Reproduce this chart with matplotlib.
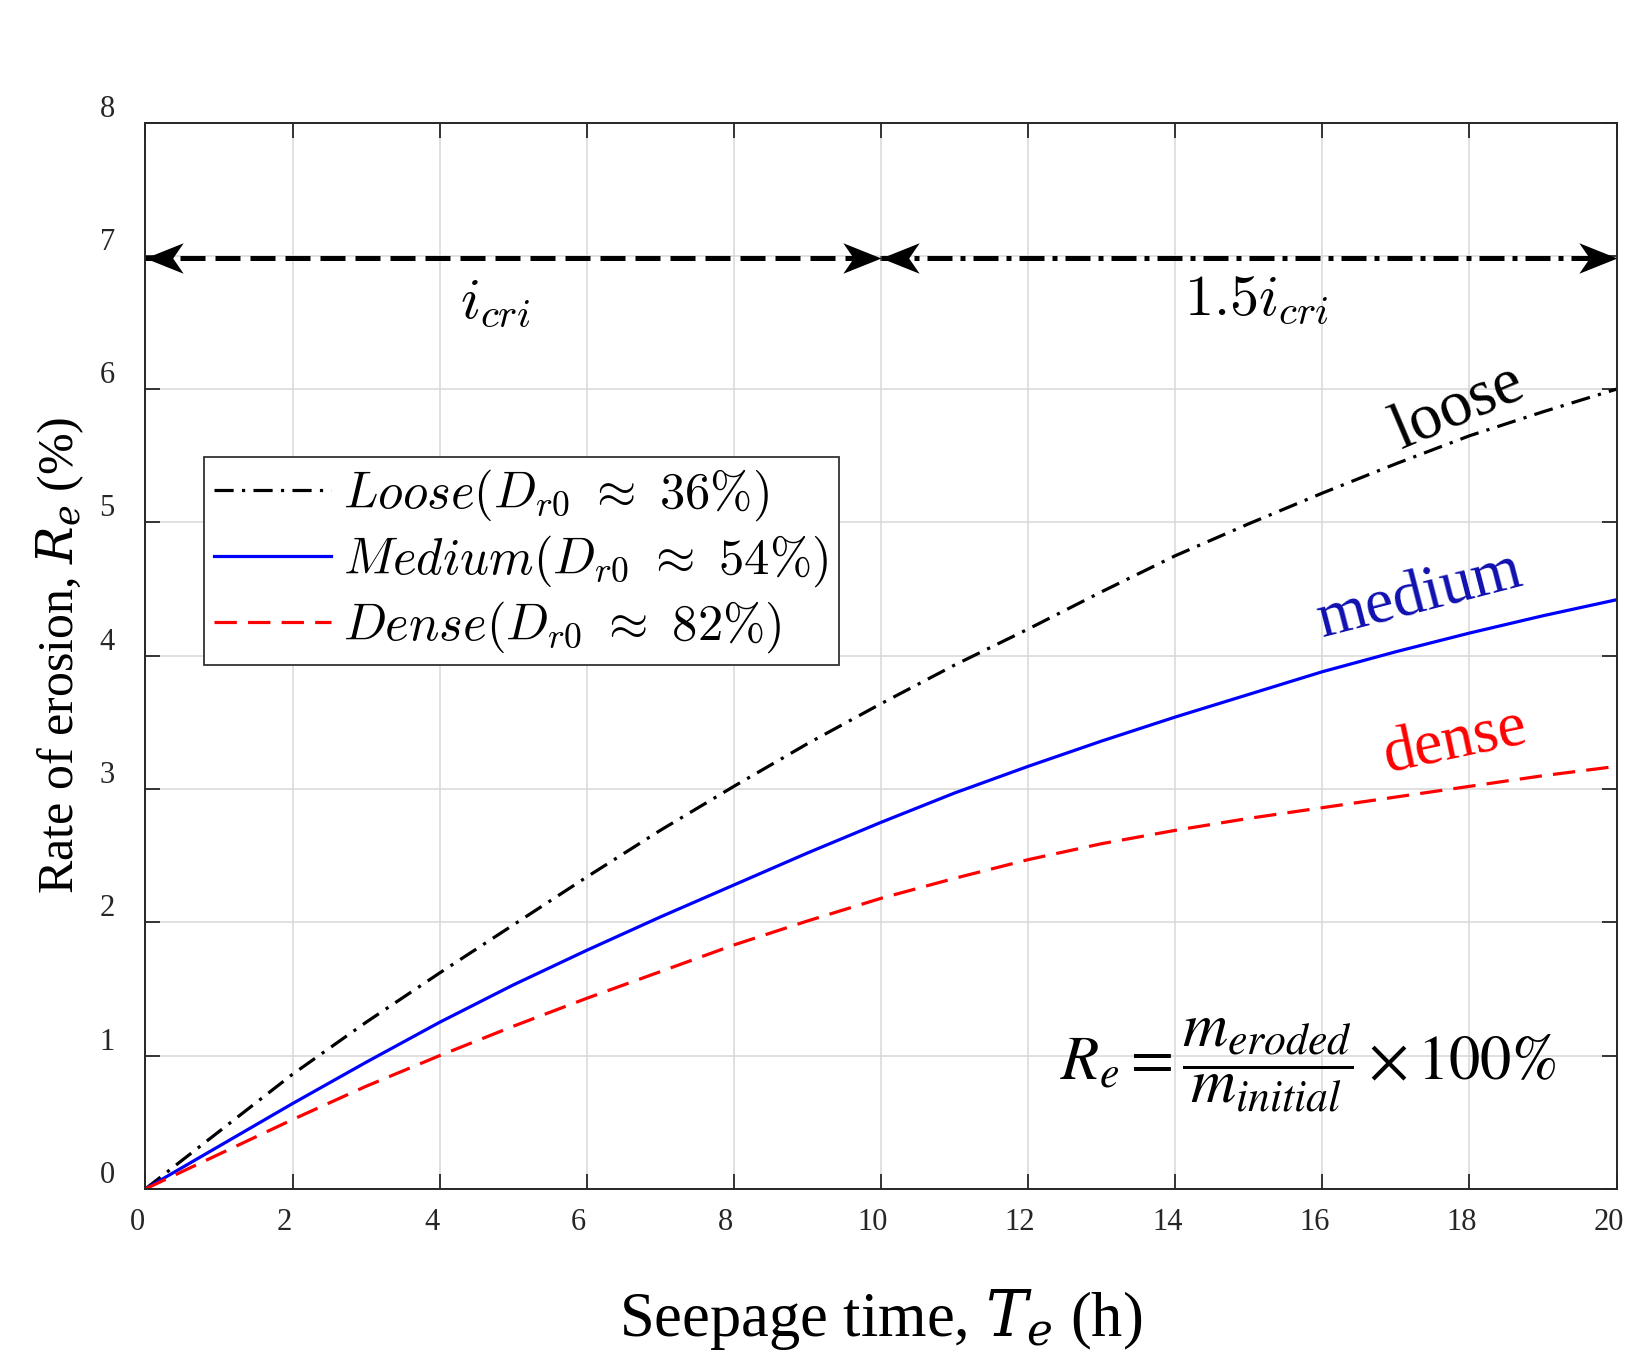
import numpy as np
import matplotlib
matplotlib.use("Agg")
import matplotlib.pyplot as plt
from matplotlib.path import Path
from matplotlib.transforms import ScaledTranslation

# seepage time (h) and rate of erosion (%) for the three relative densities
time_h = [0, 1, 2, 3, 4, 5, 6, 7, 8, 9, 10, 11, 12, 13, 14, 15, 16, 17, 18, 19, 20]
loose = [0, 0.43, 0.86, 1.25, 1.62, 1.98, 2.34, 2.69, 3.02, 3.34, 3.64,
         3.93, 4.20, 4.48, 4.75, 4.99, 5.22, 5.44, 5.65, 5.83, 6.00]
medium = [0, 0.32, 0.64, 0.95, 1.25, 1.53, 1.79, 2.04, 2.28, 2.52, 2.75,
          2.97, 3.17, 3.36, 3.54, 3.71, 3.88, 4.03, 4.17, 4.30, 4.42]
dense = [0, 0.26, 0.52, 0.77, 1.00, 1.22, 1.43, 1.63, 1.83, 2.01, 2.18,
         2.33, 2.47, 2.59, 2.69, 2.78, 2.86, 2.94, 3.02, 3.10, 3.17]

legend_labels = [r"$Loose(D_{r0}\ \approx\ 36\%)$",
                 r"$Medium(D_{r0}\ \approx\ 54\%)$",
                 r"$Dense(D_{r0}\ \approx\ 82\%)$"]

x_ticks = list(range(0, 21, 2))
y_ticks = list(range(0, 9))

# gradient stages along the top of the plot
stage_bounds = [0, 10, 20]
stage_level = 6.98

SERIF = ["Liberation Serif", "DejaVu Serif"]
TICK_GREY = "#262626"

fig = plt.figure(figsize=(16.28, 13.6), dpi=100)
ax = fig.add_axes([0.0893, 0.1258, 0.9037, 0.7841])

ax.plot(time_h, loose, color="black", lw=2.3, linestyle=(0, (6, 2.6, 1, 2.6)),
        label=legend_labels[0])
ax.plot(time_h, medium, color="blue", lw=2.3, linestyle="-",
        label=legend_labels[1])
ax.plot(time_h, dense, color="red", lw=2.3, linestyle=(0, (7, 3.5)),
        label=legend_labels[2])

ax.set_xlim(0, 20)
ax.set_ylim(0, 8)
ax.set_xticks(x_ticks)
ax.set_yticks(y_ticks)
ax.grid(True, color="#d9d9d9", lw=1.1)
ax.set_axisbelow(True)
ax.tick_params(direction="in", top=True, right=True, length=11, width=1.3,
               labelsize=22, colors=TICK_GREY, labelcolor=TICK_GREY, pad=14)
ax.tick_params(axis="y", pad=22)
for lab in ax.get_xticklabels() + ax.get_yticklabels():
    lab.set_family(SERIF)
for s in ax.spines.values():
    s.set_color(TICK_GREY)
    s.set_linewidth(1.4)

ax.set_xlabel(r"Seepage time, $T_e$ (h)", fontsize=45, family=SERIF,
              labelpad=36, math_fontfamily="dejavuserif")
ax.set_ylabel(r"Rate of erosion, $R_e$ (%)", fontsize=36, family=SERIF,
              labelpad=10, math_fontfamily="dejavuserif")

leg = ax.legend(loc="upper left", bbox_to_anchor=(0.0398, 0.686),
                prop={"size": 36.5, "math_fontfamily": "cm"},
                handlelength=2.3, handletextpad=0.25, labelspacing=0.2,
                borderpad=0.2, borderaxespad=0, fancybox=False,
                framealpha=1, edgecolor="#333333")
leg.get_frame().set_linewidth(1.3)

# stage arrows: shafts and concave arrowheads (tip at the marker origin)
head = Path([(0.0, 0.0), (-2.0, 0.8), (-1.45, 0.0), (-2.0, -0.8), (0.0, 0.0)],
            [Path.MOVETO, Path.LINETO, Path.LINETO, Path.LINETO, Path.CLOSEPOLY])
head_left = Path(-head.vertices, head.codes)
ax.plot(stage_bounds[:2], [stage_level, stage_level], color="black", lw=3.6,
        linestyle=(0, (5, 2)), clip_on=False)
ax.plot(stage_bounds[1:], [stage_level, stage_level], color="black", lw=3.6,
        linestyle=(0, (5, 1.6, 1, 1.6)), clip_on=False)
for x0, x1 in zip(stage_bounds[:-1], stage_bounds[1:]):
    ax.plot([x0], [stage_level], marker=head_left, markersize=55,
            markeredgewidth=0, color="black", clip_on=False)
    ax.plot([x1], [stage_level], marker=head, markersize=55,
            markeredgewidth=0, color="black", clip_on=False)

ax.text(4.75, 6.66, r"$i_{cri}$", fontsize=42, math_fontfamily="cm",
        ha="center", va="center")
ax.text(15.1, 6.68, r"$1.5i_{cri}$", fontsize=42, math_fontfamily="cm",
        ha="center", va="center")

# curve names written along the lines
ax.text(17.85, 5.86, "loose", fontsize=47, family=SERIF, rotation=23,
        ha="center", va="center", color="black")
ax.text(17.33, 4.44, "medium", fontsize=46, family=SERIF, rotation=14.5,
        ha="center", va="center", color="#1010b0")
ax.text(17.81, 3.35, "dense", fontsize=46, family=SERIF, rotation=12,
        ha="center", va="center", color="red")

ax.text(15.8, 0.93,
        r"$R_e = \dfrac{m_{eroded}}{m_{initial}} \times 100\%$",
        fontsize=45, math_fontfamily="stix", ha="center", va="center")

# shift tick labels slightly, as in the original figure
fig.canvas.draw()
for lab in ax.get_yticklabels():
    lab.set_transform(lab.get_transform()
                      + ScaledTranslation(0, 0.17, fig.dpi_scale_trans))
for lab in ax.get_xticklabels():
    lab.set_transform(lab.get_transform()
                      + ScaledTranslation(-0.08, 0, fig.dpi_scale_trans))

fig.savefig("out.png", dpi=100)
